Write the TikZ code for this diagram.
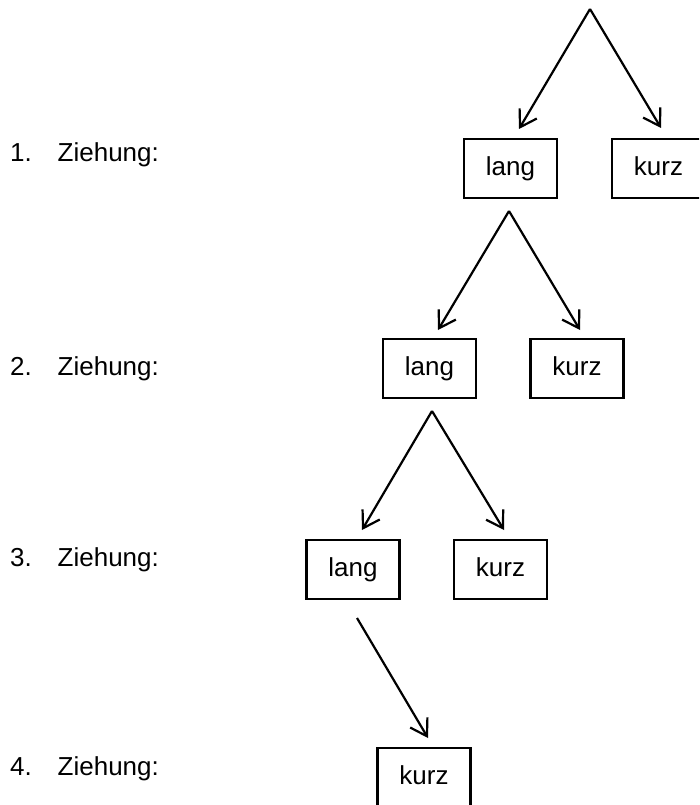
\documentclass[tikz,border=0pt]{standalone}
\usepackage{fontspec}
\setmainfont{Liberation Sans}
\usetikzlibrary{arrows.meta}
\begin{document}
\begin{tikzpicture}[x=1pt,y=-1pt,
  box/.style={draw, line width=2.5pt, minimum width=93pt, minimum height=59pt, inner sep=0pt,
    text height=18pt, text depth=4pt, font=\fontsize{26}{30}\selectfont},
  lbl/.style={anchor=base west, inner sep=0pt, font=\fontsize{26}{30}\selectfont},
  arr/.style={line width=2.2pt, -{Straight Barb[length=16pt, width=20pt, line width=2.2pt]}}]
\useasboundingbox (0,0) rectangle (699,805);
\clip (0,0) rectangle (699,805);
% labels
\node[lbl] (n1) at (10,162) {1.};
\node[lbl] (z1) at (57.5,162) {Ziehung:};
\node[lbl] (n2) at (10,375.5) {2.};
\node[lbl] (z2) at (57.5,375.5) {Ziehung:};
\node[lbl] (n3) at (10,566.5) {3.};
\node[lbl] (z3) at (57.5,566.5) {Ziehung:};
\node[lbl] (n4) at (10,775) {4.};
\node[lbl] (z4) at (57.5,775) {Ziehung:};
% boxes
\node[box] (l1) at (510.5,168.5) {lang};
\node[box] (k1) at (658.5,168.5) {kurz};
\node[box] (l2) at (429.5,368.5) {lang};
\node[box] (k2) at (577,368.5) {kurz};
\node[box] (l3) at (353,569.5) {lang};
\node[box] (k3) at (500.5,569.5) {kurz};
\node[box] (k4) at (424,777.5) {kurz};
% branch points and arrow ends
\coordinate (r0) at (590,9);
\coordinate (t1l) at (519,129);
\coordinate (t1k) at (661,128);
\coordinate (a2) at (509,211);
\coordinate (t2l) at (438,330);
\coordinate (t2k) at (580,330);
\coordinate (a3) at (432,411);
\coordinate (t3l) at (362,530);
\coordinate (t3k) at (504,530);
\coordinate (a4) at (357,618);
\coordinate (t4k) at (428,738);
\draw[arr] (r0) -- (t1l);
\draw[arr] (r0) -- (t1k);
\draw[arr] (a2) -- (t2l);
\draw[arr] (a2) -- (t2k);
\draw[arr] (a3) -- (t3l);
\draw[arr] (a3) -- (t3k);
\draw[arr] (a4) -- (t4k);
\end{tikzpicture}
\end{document}
